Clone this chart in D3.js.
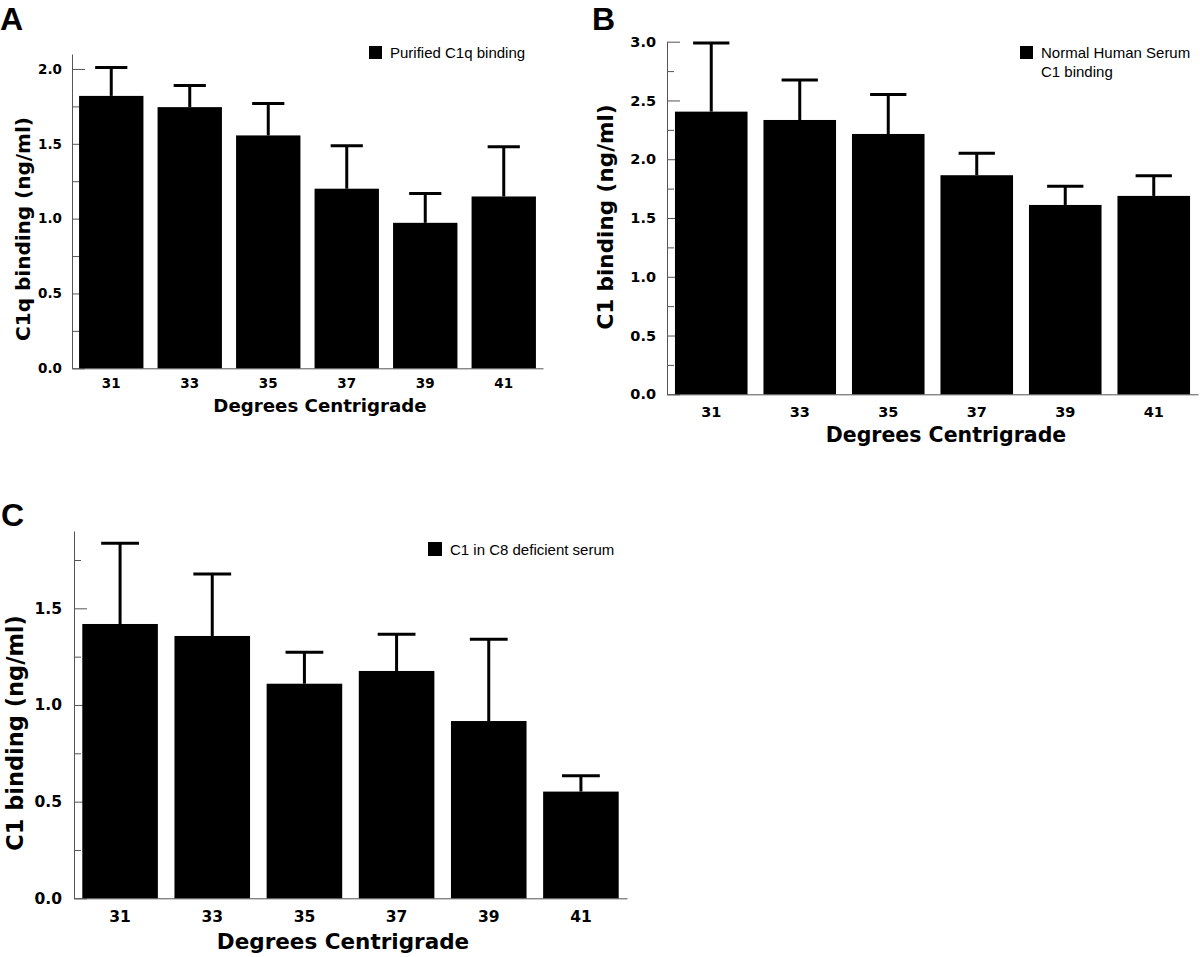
<!DOCTYPE html>
<html>
<head>
<meta charset="utf-8">
<script src="https://cdnjs.cloudflare.com/ajax/libs/d3/7.8.5/d3.min.js"></script>
<style>
  html, body { margin: 0; padding: 0; background: #fff; }
  svg { display: block; }
</style>
</head>
<body>
<svg id="chart" width="1200" height="957"></svg>
<script>
// ---------- data ----------
const categories = ["31", "33", "35", "37", "39", "41"];

const meansA = [1.82, 1.745, 1.556, 1.20, 0.972, 1.148];
const errorsA = [0.19, 0.145, 0.214, 0.287, 0.196, 0.332];

const meansB = [2.405, 2.334, 2.215, 1.864, 1.611, 1.688];
const errorsB = [0.585, 0.341, 0.335, 0.186, 0.159, 0.172];

const meansC = [1.419, 1.357, 1.110, 1.176, 0.917, 0.552];
const errorsC = [0.417, 0.321, 0.163, 0.190, 0.423, 0.082];

const majorTicksA = [0, 0.5, 1.0, 1.5, 2.0];
const minorTicksA = [0.25, 0.75, 1.25, 1.75];
const majorTicksB = [0, 0.5, 1.0, 1.5, 2.0, 2.5, 3.0];
const minorTicksB = [0.25, 0.75, 1.25, 1.75, 2.25, 2.75];
const majorTicksC = [0, 0.5, 1.0, 1.5];
const minorTicksC = [0.25, 0.75, 1.25, 1.75];

const xTitle = "Degrees Centrigrade";
const yTitleA = "C1q binding (ng/ml)";
const yTitleB = "C1 binding (ng/ml)";
const yTitleC = "C1 binding (ng/ml)";
const legendA = ["Purified C1q binding"];
const legendB = ["Normal Human Serum", "C1 binding"];
const legendC = ["C1 in C8 deficient serum"];

// ---------- layout ----------
const panels = [
  { letter: "A", lx: 0, ly: 30, means: meansA, errors: errorsA,
    major: majorTicksA, minor: minorTicksA, yMax: 2.1,
    x0: 72, x1: 543, yBottom: 368.3, yTop: 54,
    tickFont: 13.5, xPad: 10.6, yPad: 10,
    yTitle: yTitleA, yTitleX: 23, yTitleY: 229, yTitleSize: 20,
    xTitleX: 320, xTitleY: 405, xTitleSize: 18.2,
    legend: legendA, legX: 369, legY: 46, legSize: 13 },
  { letter: "B", lx: 592, ly: 30, means: meansB, errors: errorsB,
    major: majorTicksB, minor: minorTicksB, yMax: 3.0,
    x0: 667, x1: 1198, yBottom: 394.3, yTop: 41.7,
    tickFont: 14.5, xPad: 12.4, yPad: 11,
    yTitle: yTitleB, yTitleX: 605, yTitleY: 217, yTitleSize: 21.5,
    xTitleX: 946, xTitleY: 435, xTitleSize: 20.5,
    legend: legendB, legX: 1020, legY: 46, legSize: 13 },
  { letter: "C", lx: 1, ly: 526, means: meansC, errors: errorsC,
    major: majorTicksC, minor: minorTicksC, yMax: 1.9,
    x0: 74, x1: 627, yBottom: 898.3, yTop: 531,
    tickFont: 15.5, xPad: 13, yPad: 12,
    yTitle: yTitleC, yTitleX: 15, yTitleY: 733, yTitleSize: 22.5,
    xTitleX: 343, xTitleY: 941.7, xTitleSize: 21.5,
    legend: legendC, legX: 428, legY: 542, legSize: 14 }
];

const svg = d3.select("#chart");
const boldFont = "'DejaVu Sans', Verdana, sans-serif";
const legendFont = "'Liberation Sans', Arial, sans-serif";
const axisColor = "#555";

panels.forEach(p => {
  const g = svg.append("g");

  const x = d3.scaleBand()
    .domain(categories)
    .range([p.x0, p.x1])
    .paddingInner(0.18)
    .paddingOuter(0.09);

  const y = d3.scaleLinear()
    .domain([0, p.yMax])
    .range([p.yBottom, p.yTop]);

  // minor ticks (inward, no labels)
  const minorAxis = g.append("g")
    .attr("transform", `translate(${p.x0},0)`)
    .call(d3.axisLeft(y).tickValues(p.minor).tickSize(-7).tickSizeOuter(0).tickFormat(""));
  minorAxis.select(".domain").remove();
  minorAxis.selectAll("line").attr("stroke", axisColor).attr("stroke-width", 1);

  // major ticks with labels
  const majorAxis = g.append("g")
    .attr("transform", `translate(${p.x0},0)`)
    .call(d3.axisLeft(y).tickValues(p.major).tickSize(-13).tickSizeOuter(0)
      .tickPadding(p.yPad).tickFormat(d3.format(".1f")));
  majorAxis.select(".domain").attr("stroke", axisColor).attr("stroke-width", 1);
  majorAxis.selectAll("line").attr("stroke", axisColor).attr("stroke-width", 1);
  majorAxis.selectAll("text")
    .attr("font-family", boldFont).attr("font-weight", "bold")
    .attr("font-size", p.tickFont).attr("fill", "#000");

  // x axis
  const xAxis = g.append("g")
    .attr("transform", `translate(0,${y(0)})`)
    .call(d3.axisBottom(x).tickSize(0).tickSizeOuter(0).tickPadding(p.xPad));
  xAxis.select(".domain").attr("stroke", axisColor).attr("stroke-width", 1);
  xAxis.selectAll("text")
    .attr("font-family", boldFont).attr("font-weight", "bold")
    .attr("font-size", p.tickFont).attr("fill", "#000");

  const data = categories.map((c, i) => ({ c, m: p.means[i], e: p.errors[i] }));

  // error bars
  const eb = g.append("g");
  eb.selectAll("line.v").data(data).join("line")
    .attr("class", "v")
    .attr("x1", d => x(d.c) + x.bandwidth() / 2)
    .attr("x2", d => x(d.c) + x.bandwidth() / 2)
    .attr("y1", d => y(d.m))
    .attr("y2", d => y(d.m + d.e))
    .attr("stroke", "#000").attr("stroke-width", 3);
  eb.selectAll("line.cap").data(data).join("line")
    .attr("class", "cap")
    .attr("x1", d => x(d.c) + x.bandwidth() * 0.25)
    .attr("x2", d => x(d.c) + x.bandwidth() * 0.75)
    .attr("y1", d => y(d.m + d.e))
    .attr("y2", d => y(d.m + d.e))
    .attr("stroke", "#000").attr("stroke-width", 3);

  // bars
  g.append("g").selectAll("rect").data(data).join("rect")
    .attr("x", d => x(d.c))
    .attr("y", d => y(d.m))
    .attr("width", x.bandwidth())
    .attr("height", d => y(0) - y(d.m))
    .attr("fill", "#000");

  // axis titles
  g.append("text")
    .attr("transform", `translate(${p.yTitleX},${p.yTitleY}) rotate(-90)`)
    .attr("text-anchor", "middle")
    .attr("dominant-baseline", "central")
    .attr("font-family", boldFont).attr("font-weight", "bold")
    .attr("font-size", p.yTitleSize)
    .text(p.yTitle);

  g.append("text")
    .attr("x", p.xTitleX).attr("y", p.xTitleY)
    .attr("text-anchor", "middle")
    .attr("dominant-baseline", "central")
    .attr("font-family", boldFont).attr("font-weight", "bold")
    .attr("font-size", p.xTitleSize)
    .text(xTitle);

  // legend
  g.append("rect")
    .attr("x", p.legX).attr("y", p.legY)
    .attr("width", p.legSize).attr("height", p.legSize)
    .attr("fill", "#000");
  p.legend.forEach((t, i) => {
    g.append("text")
      .attr("x", p.legX + p.legSize + 8)
      .attr("y", p.legY + p.legSize / 2 + i * 19)
      .attr("dominant-baseline", "central")
      .attr("font-family", legendFont)
      .attr("font-size", 15)
      .attr("fill", "#000")
      .text(t);
  });

  // panel letter
  g.append("text")
    .attr("x", p.lx).attr("y", p.ly)
    .attr("font-family", legendFont).attr("font-weight", "bold")
    .attr("font-size", 32)
    .text(p.letter);
});
</script>
</body>
</html>
